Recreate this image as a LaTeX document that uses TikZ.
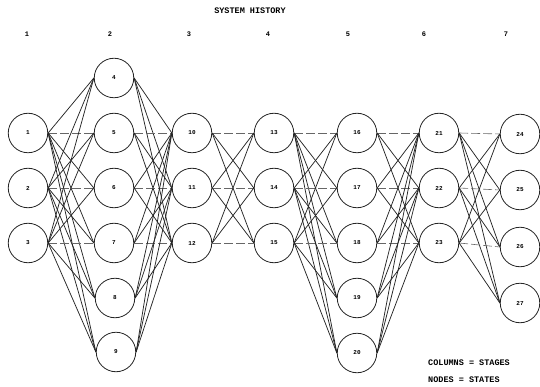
\documentclass[tikz,border=0pt]{standalone}
\usepackage{fontspec}
\setmonofont{Liberation Mono}
\begin{document}
\begin{tikzpicture}[x=1pt,y=-1pt,
  state/.style={circle,draw=black!85,line width=0.8pt,minimum size=39.5pt,inner sep=0pt,
    font=\ttfamily\bfseries\fontsize{6}{7}\selectfont},
  link/.style={black!85,line width=0.75pt},
  flat/.style={black!60,line width=0.6pt,dash pattern=on 9pt off 3pt},
  lbl/.style={font=\ttfamily\bfseries\fontsize{7}{8}\selectfont,inner sep=0pt},
  txt/.style={font=\ttfamily\bfseries\fontsize{8.5}{9}\selectfont,inner sep=0pt}]
\useasboundingbox (0,0) rectangle (540,387);
% title and stage labels
\node[txt] (title) at (250,11) {SYSTEM HISTORY};
\node[lbl] (c1) at (27,34) {1};
\node[lbl] (c2) at (110,34) {2};
\node[lbl] (c3) at (189,34) {3};
\node[lbl] (c4) at (268,34) {4};
\node[lbl] (c5) at (348,34) {5};
\node[lbl] (c6) at (424,34) {6};
\node[lbl] (c7) at (506,34) {7};
% stage 1
\node[state] (n1) at (28,133) {1};
\node[state] (n2) at (28,188) {2};
\node[state] (n3) at (28,243) {3};
% stage 2
\node[state] (n4) at (114,78) {4};
\node[state] (n5) at (114,133) {5};
\node[state] (n6) at (114,188) {6};
\node[state] (n7) at (114,243) {7};
\node[state] (n8) at (115,298) {8};
\node[state] (n9) at (116,352) {9};
% stage 3
\node[state] (n10) at (192,133) {10};
\node[state] (n11) at (192,188) {11};
\node[state] (n12) at (192,243) {12};
% stage 4
\node[state] (n13) at (274,133) {13};
\node[state] (n14) at (274,188) {14};
\node[state] (n15) at (274,243) {15};
% stage 5
\node[state] (n16) at (357,133) {16};
\node[state] (n17) at (357,188) {17};
\node[state] (n18) at (357,243) {18};
\node[state] (n19) at (357,298) {19};
\node[state] (n20) at (357,353) {20};
% stage 6
\node[state] (n21) at (439,133) {21};
\node[state] (n22) at (439,188) {22};
\node[state] (n23) at (439,243) {23};
% stage 7
\node[state] (n24) at (520,134) {24};
\node[state] (n25) at (520,190) {25};
\node[state] (n26) at (520,247) {26};
\node[state] (n27) at (520,303) {27};
% connectors: every state of a stage to every state of the next
\foreach \a/\ra in {1/2,2/3,3/4}
  \foreach \b/\rb in {4/1,5/2,6/3,7/4,8/5,9/6}
    {\ifnum\ra=\rb \draw[flat] (n\a.east) -- (n\b.west); \else \draw[link] (n\a.east) -- (n\b.west); \fi}
\foreach \a/\ra in {4/1,5/2,6/3,7/4,8/5,9/6}
  \foreach \b/\rb in {10/2,11/3,12/4}
    {\ifnum\ra=\rb \draw[flat] (n\a.east) -- (n\b.west); \else \draw[link] (n\a.east) -- (n\b.west); \fi}
\foreach \a/\ra in {10/2,11/3,12/4}
  \foreach \b/\rb in {13/2,14/3,15/4}
    {\ifnum\ra=\rb \draw[flat] (n\a.east) -- (n\b.west); \else \draw[link] (n\a.east) -- (n\b.west); \fi}
\foreach \a/\ra in {13/2,14/3,15/4}
  \foreach \b/\rb in {16/2,17/3,18/4,19/5,20/6}
    {\ifnum\ra=\rb \draw[flat] (n\a.east) -- (n\b.west); \else \draw[link] (n\a.east) -- (n\b.west); \fi}
\foreach \a/\ra in {16/2,17/3,18/4,19/5,20/6}
  \foreach \b/\rb in {21/2,22/3,23/4}
    {\ifnum\ra=\rb \draw[flat] (n\a.east) -- (n\b.west); \else \draw[link] (n\a.east) -- (n\b.west); \fi}
\foreach \a/\ra in {21/2,22/3,23/4}
  \foreach \b/\rb in {24/2,25/3,26/4,27/5}
    {\ifnum\ra=\rb \draw[flat] (n\a.east) -- (n\b.west); \else \draw[link] (n\a.east) -- (n\b.west); \fi}
% legend
\node[txt,anchor=west] (leg1) at (428,363) {COLUMNS = STAGES};
\node[txt,anchor=west] (leg2) at (428,380) {NODES   = STATES};
\end{tikzpicture}
\end{document}
